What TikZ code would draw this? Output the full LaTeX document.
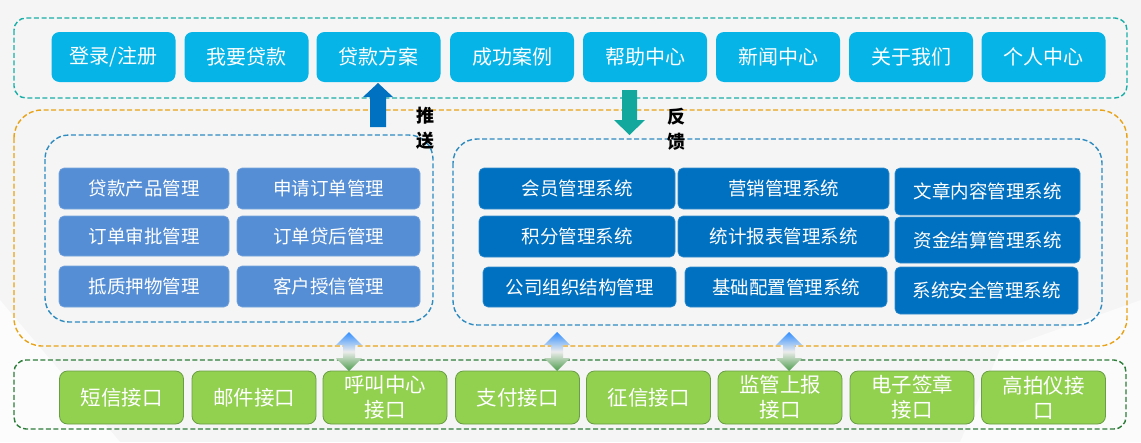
\documentclass[tikz,border=0pt]{standalone}
\usepackage{fontspec}
\newfontfamily\cjk{Noto Sans CJK SC}
\usetikzlibrary{shadings}
\definecolor{cyanbtn}{HTML}{06B4E8}
\definecolor{lblue}{HTML}{558ED5}
\definecolor{dblue}{HTML}{0070C0}
\definecolor{gbox}{HTML}{92D050}
\definecolor{gborder}{HTML}{6A9E45}
\definecolor{tealline}{HTML}{1AAFA8}
\definecolor{orangeline}{HTML}{E8A317}
\definecolor{blueline}{HTML}{2E8BC0}
\definecolor{greenline}{HTML}{2E7D3A}
\definecolor{tealarrow}{HTML}{12A89E}
\definecolor{bg}{HTML}{F5F5F5}
\tikzset{
  cont/.style={line width=1.4pt, dash pattern=on 5pt off 2.6pt},
  topbtn/.style={fill=cyanbtn, rounded corners=8pt, text=white, inner sep=0pt,
    minimum width=124pt, minimum height=50pt, font=\cjk\fontsize{20}{24}\selectfont},
  lbox/.style={fill=lblue, draw=lblue!80!white, line width=0.6pt, rounded corners=5pt, text=white, inner sep=0pt,
    font=\cjk\fontsize{18.5}{22}\selectfont},
  rbox/.style={fill=dblue, draw=dblue!80!white, line width=0.6pt, rounded corners=5pt, text=white, inner sep=0pt,
    font=\cjk\fontsize{18.5}{22}\selectfont},
  gbtn/.style={fill=gbox, draw=gborder, line width=0.8pt, rounded corners=8pt, text=white, inner sep=0pt,
    align=center, minimum width=124pt, minimum height=53pt, font=\cjk\fontsize{20.5}{25}\selectfont},
  vlabel/.style={inner sep=0pt, align=center, font=\cjk\bfseries\fontsize{18}{25}\selectfont},
  dbl/.style={top color=blue!55!cyan!80!white, bottom color=green!45!black!70!white, middle color=white!85!gray}
}
\begin{document}
\begin{tikzpicture}[x=1pt,y=-1pt]
\fill[bg] (0,0) rectangle (1141,442);
\useasboundingbox (0,0) rectangle (1141,442);
% faint background polygons
\fill[white!70!bg] (0,300) -- (120,442) -- (0,442) -- cycle;
\fill[gray!8] (560,0) -- (700,0) -- (620,90) -- cycle;
\fill[white!60!bg] (1000,350) -- (1141,300) -- (1141,442) -- (960,442) -- cycle;

% containers
\draw[cont, draw=tealline, rounded corners=12pt] (14,18) rectangle (1127,98);
\draw[cont, draw=orangeline, rounded corners=28pt] (14,110) rectangle (1127,346);
\draw[cont, draw=blueline, rounded corners=24pt] (45,135) rectangle (433,322);
\draw[cont, draw=blueline, rounded corners=24pt] (453,139) rectangle (1102,325);
\draw[cont, draw=greenline, rounded corners=12pt] (14,360) rectangle (1126,429);

% top buttons
\node[topbtn] (t1) at (113.5,57) {登录/注册};
\node[topbtn] (t2) at (246.5,57) {我要贷款};
\node[topbtn] (t3) at (378.5,57) {贷款方案};
\node[topbtn] (t4) at (512,57) {成功案例};
\node[topbtn] (t5) at (645,57) {帮助中心};
\node[topbtn] (t6) at (778,57) {新闻中心};
\node[topbtn] (t7) at (911,57) {关于我们};
\node[topbtn] (t8) at (1043.5,57) {个人中心};

% left boxes
\node[lbox, minimum width=170pt, minimum height=41pt] (l1) at (144,188.5) {贷款产品管理};
\node[lbox, minimum width=183pt, minimum height=41pt] (l2) at (328.5,188.5) {申请订单管理};
\node[lbox, minimum width=170pt, minimum height=40pt] (l3) at (144,236) {订单审批管理};
\node[lbox, minimum width=183pt, minimum height=40pt] (l4) at (328.5,236) {订单贷后管理};
\node[lbox, minimum width=170pt, minimum height=41pt] (l5) at (144,286.5) {抵质押物管理};
\node[lbox, minimum width=183pt, minimum height=41pt] (l6) at (328.5,286.5) {客户授信管理};

% right boxes
\node[rbox, minimum width=196pt, minimum height=41pt] (r1) at (577,188.5) {会员管理系统};
\node[rbox, minimum width=211pt, minimum height=41pt] (r2) at (783.5,188.5) {营销管理系统};
\node[rbox, minimum width=185pt, minimum height=47pt] (r3) at (987.5,191.5) {文章内容管理系统};
\node[rbox, minimum width=196pt, minimum height=41pt] (r4) at (577,236.5) {积分管理系统};
\node[rbox, minimum width=211pt, minimum height=41pt] (r5) at (783.5,236.5) {统计报表管理系统};
\node[rbox, minimum width=185pt, minimum height=46pt] (r6) at (987.5,240) {资金结算管理系统};
\node[rbox, minimum width=193pt, minimum height=40pt] (r7) at (579.5,287) {公司组织结构管理};
\node[rbox, minimum width=202pt, minimum height=40pt] (r8) at (786,287) {基础配置管理系统};
\node[rbox, minimum width=183pt, minimum height=47pt] (r9) at (986.5,290.5) {系统安全管理系统};

% green boxes
\node[gbtn] (g1) at (121.5,397.5) {短信接口};
\node[gbtn] (g2) at (254,397.5) {邮件接口};
\node[gbtn] (g3) at (385,397.5) {呼叫中心\\接口};
\node[gbtn] (g4) at (517.5,397.5) {支付接口};
\node[gbtn] (g5) at (648.5,397.5) {征信接口};
\node[gbtn] (g6) at (780,397.5) {监管上报\\接口};
\node[gbtn] (g7) at (912,397.5) {电子签章\\接口};
\node[gbtn] (g8) at (1043.5,397.5) {高拍仪接\\口};

% push / feedback arrows
\fill[dblue] (370,127) -- (370,97) -- (363,97) -- (378,83) -- (393,97) -- (386,97) -- (386,127) -- cycle;
\node[vlabel] (push) at (425,128) {推\\送};
\fill[tealarrow] (622,90) -- (637,90) -- (637,120) -- (645,120) -- (629.5,135) -- (614,120) -- (622,120) -- cycle;
\node[vlabel] (feed) at (676,129) {反\\馈};

% double arrows
\foreach \cx in {349,557,789} {
  \shade[dbl] (\cx,332) -- (\cx+13,345) -- (\cx+6,345) -- (\cx+6,358) -- (\cx+13,358) -- (\cx,371)
    -- (\cx-13,358) -- (\cx-6,358) -- (\cx-6,345) -- (\cx-13,345) -- cycle;
}
\end{tikzpicture}
\end{document}
